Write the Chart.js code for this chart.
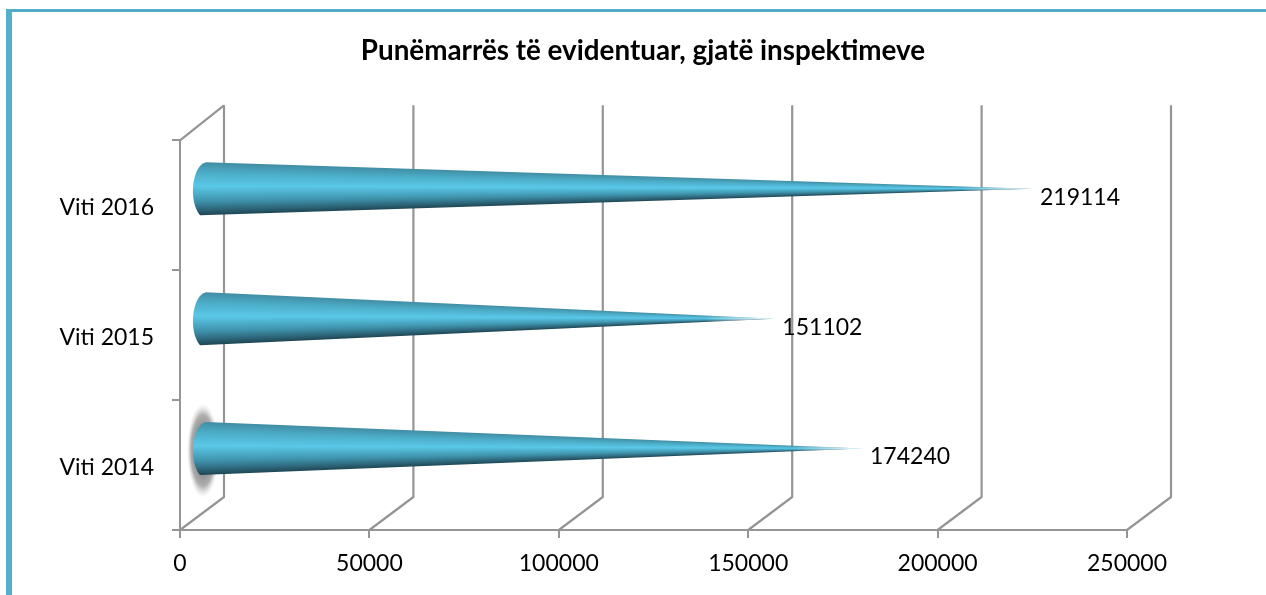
<!DOCTYPE html>
<html>
<head>
<meta charset="utf-8">
<style>
  html, body { margin: 0; padding: 0; background: #fff; overflow: hidden; }
  .frame {
    position: absolute; left: 6px; top: 9px; right: 0; bottom: 0;
    border-left: 6px solid #53b0c9; border-top: 3px solid #4fadc6;
  }
  .wrap { position: absolute; left: 20px; top: 0; width: 1246px; height: 595px; }
</style>
<script src="https://cdn.jsdelivr.net/npm/chart.js@4"></script>
</head>
<body>
<div class="frame"></div>
<div class="wrap"><canvas class="chart" width="1246" height="595"></canvas></div>
<script>
const categories = ['Viti 2016', 'Viti 2015', 'Viti 2014'];
const values = [219114, 151102, 174240];
const xTicks = [0, 50000, 100000, 150000, 200000, 250000];
const chartTitle = 'Punëmarrës të evidentuar, gjatë inspektimeve';

const DEPTH_X = 44, DEPTH_Y = 33;
const CONE_R = 26.5;
const GRID = '#959595';
const FONT = 'Lato, Carlito, Calibri, sans-serif';

// grid walls in fake 3d, taken from the real scales
const walls = {
  id: 'walls',
  beforeDatasetsDraw(chart) {
    const { ctx, scales: { x } } = chart;
    const bottom = chart.chartArea.bottom, top = chart.chartArea.top;
    ctx.save();
    ctx.strokeStyle = GRID;
    ctx.lineWidth = 2.2;
    ctx.lineJoin = 'round';
    xTicks.forEach(t => {
      const px = x.getPixelForValue(t);
      ctx.beginPath();
      ctx.moveTo(px, bottom);
      ctx.lineTo(px + DEPTH_X, bottom - DEPTH_Y);
      ctx.lineTo(px + DEPTH_X, top - DEPTH_Y - 2);
      ctx.stroke();
    });
    const p0 = x.getPixelForValue(0);
    ctx.beginPath();
    ctx.moveTo(p0, top);
    ctx.lineTo(p0 + DEPTH_X, top - DEPTH_Y - 2);
    ctx.stroke();
    ctx.restore();
  }
};

// each bar is painted as a cone lying half way into the depth
const cones = {
  id: 'cones',
  afterDatasetsDraw(chart) {
    const { ctx } = chart;
    const bars = chart.getDatasetMeta(0).data;
    bars.forEach((bar, i) => {
      const baseX = bar.base + DEPTH_X / 2;
      const cy = bar.y - DEPTH_Y / 2;
      const tipX = bar.x + DEPTH_X / 2;

      if (categories[i] === 'Viti 2014') {
        ctx.save();
        ctx.translate(baseX, cy + 2);
        ctx.scale(16, 47);
        const halo = ctx.createRadialGradient(0, 0, 0.3, 0, 0, 1);
        halo.addColorStop(0, 'rgba(90,90,90,0.85)');
        halo.addColorStop(0.65, 'rgba(120,120,120,0.6)');
        halo.addColorStop(1, 'rgba(190,190,190,0)');
        ctx.fillStyle = halo;
        ctx.beginPath();
        ctx.arc(0, 0, 1, 0, Math.PI * 2);
        ctx.fill();
        ctx.restore();
      }

      const half = Math.atan(CONE_R / (tipX - baseX));
      const g = ctx.createConicGradient(Math.PI - half, tipX, cy);
      const span = (2 * half) / (Math.PI * 2);
      // from the lower edge (dark) round to the upper edge
      [[0, '#1e4552'], [0.1, '#2c6377'], [0.27, '#3f93ac'], [0.55, '#5ac8e8'],
       [0.8, '#4cadc8'], [1, '#418da4']]
        .forEach(s => g.addColorStop(s[0] * span, s[1]));
      g.addColorStop(span + 0.001, '#418da4');
      g.addColorStop(1, '#1e4552');

      ctx.save();
      ctx.beginPath();
      ctx.moveTo(tipX, cy);
      ctx.lineTo(baseX + 3, cy - CONE_R);
      ctx.bezierCurveTo(baseX - 11, cy - CONE_R + 3, baseX - 15, cy + CONE_R - 14, baseX - 3, cy + CONE_R);
      ctx.closePath();
      ctx.fillStyle = g;
      ctx.fill();
      // the tip fades out
      const fade = ctx.createLinearGradient(tipX - 70, 0, tipX, 0);
      fade.addColorStop(0, 'rgba(255,255,255,0)');
      fade.addColorStop(1, 'rgba(255,255,255,0.9)');
      ctx.fillStyle = fade;
      ctx.fill();
      ctx.restore();

      ctx.save();
      ctx.fillStyle = '#000';
      ctx.font = '23px ' + FONT;
      ctx.textAlign = 'left';
      ctx.textBaseline = 'middle';
      ctx.fillText(String(values[i]), bar.x + 30, bar.y - 8);
      ctx.restore();
    });
  }
};

new Chart(document.querySelector('.chart'), {
  type: 'bar',
  data: {
    labels: categories,
    datasets: [{
      label: 'Punëmarrës',
      data: values,
      backgroundColor: 'rgba(0,0,0,0)',
      borderWidth: 0,
      categoryPercentage: 0.6,
      barPercentage: 0.7
    }]
  },
  options: {
    indexAxis: 'y',
    responsive: false,
    animation: false,
    plugins: {
      legend: { display: false },
      tooltip: { enabled: false },
      title: {
        display: true,
        text: chartTitle,
        color: '#000',
        font: { family: FONT, size: 27.8, weight: 'bold' },
        padding: { top: 34, bottom: 73 }
      }
    },
    scales: {
      x: {
        min: 0,
        max: 250000,
        afterBuildTicks(s) { s.ticks = xTicks.map(v => ({ value: v })); },
        grid: { drawOnChartArea: false, color: GRID, lineWidth: 2, tickLength: 8 },
        border: { color: GRID, width: 2 },
        ticks: {
          color: '#000',
          font: { family: FONT, size: 23 },
          padding: 12,
          maxRotation: 0,
          autoSkip: false,
          callback: v => String(v)
        },
        afterFit(s) { s.height = 65; }
      },
      y: {
        grid: { drawOnChartArea: false, color: GRID, lineWidth: 2, tickLength: 8 },
        border: { color: GRID, width: 2 },
        ticks: {
          color: '#000',
          // blank first line pushes the label a little below the band centre
          font: { family: FONT, size: 23, lineHeight: '5px' },
          padding: 18,
          autoSkip: false,
          callback(v) { return ['', this.getLabelForValue(v)]; }
        },
        afterFit(s) { s.width = 160; }
      },
      // empty axis on the right: keeps the title centred on the whole canvas
      spacer: {
        axis: 'y',
        position: 'right',
        grid: { display: false },
        border: { display: false },
        ticks: { display: false },
        afterFit(s) { s.width = 139; }
      }
    }
  },
  plugins: [walls, cones]
});
</script>
</body>
</html>
